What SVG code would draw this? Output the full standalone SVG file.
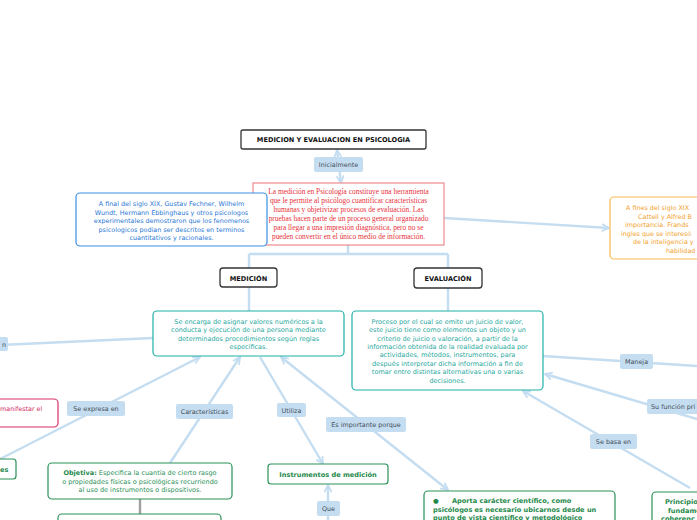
<svg xmlns="http://www.w3.org/2000/svg" width="697" height="520" viewBox="0 0 697 520">
<style>
.c{fill:none;stroke:#c4ddf1;stroke-width:2.4}
.g{fill:none;stroke:#a0a0a0;stroke-width:2.4}
.lb{fill:#c5ddf1;stroke:none}
.lt{font-family:"DejaVu Sans",Verdana,sans-serif;font-size:6.4px;fill:#444e58;text-anchor:middle}
.hb{fill:#fff;stroke:#333;stroke-width:1.3}
.ht{font-family:"DejaVu Sans",Verdana,sans-serif;font-size:6.6px;font-weight:bold;fill:#111;text-anchor:middle}
.tb{fill:#fff;stroke:#1fb0a8;stroke-width:1.2}
.tt{font-family:"DejaVu Sans",Verdana,sans-serif;font-size:6.5px;fill:#1fa9a0;text-anchor:middle}
.gb{fill:#fff;stroke:#2a9158;stroke-width:1.2}
.gt{font-family:"DejaVu Sans",Verdana,sans-serif;font-size:6.5px;fill:#2a9158;text-anchor:middle}
.gbt{font-family:"DejaVu Sans",Verdana,sans-serif;font-size:6.6px;font-weight:bold;fill:#1f8a4c}
</style>
<defs>
<marker id="ar" viewBox="0 0 10 10" refX="9" refY="5" markerWidth="9" markerHeight="9" markerUnits="userSpaceOnUse" orient="auto-start-reverse">
<path d="M1,1 L9,5 L1,9" fill="none" stroke="#c4ddf1" stroke-width="2"/>
</marker>
</defs>
<rect width="697" height="520" fill="#fff"/>

<g id="connectors">
<path class="c" d="M341,183 L337,150" marker-start="url(#ar)" marker-end="url(#ar)"/>
<path class="c" d="M444,218 L609,228" marker-end="url(#ar)"/>
<path class="c" d="M348,245 L348,254 M249,254 L448,254 M249,254 L249,268 M448,254 L448,268"/>
<path class="c" d="M249,287 L249,311 M448,288 L448,311"/>
<path class="c" d="M153,338 L0,345"/>
<path class="c" d="M0,459 L200,357" marker-end="url(#ar)"/>
<path class="c" d="M170,463 L240,357" marker-end="url(#ar)"/>
<path class="c" d="M260,357 L323,464" marker-end="url(#ar)"/>
<path class="c" d="M281,357 L448,490" marker-start="url(#ar)" marker-end="url(#ar)"/>
<path class="c" d="M328,520 L328,485" marker-end="url(#ar)"/>
<path class="c" d="M543,356 L697,366"/>
<path class="c" d="M697,419 L545,374" marker-end="url(#ar)"/>
<path class="c" d="M690,488 L523,391" marker-end="url(#ar)"/>
<path class="g" d="M140,499 L140,514"/>
</g>

<g id="lbl-inicialmente"><rect class="lb" x="314" y="157" width="49" height="15" rx="2"/><text class="lt" x="338.5" y="167">Inicialmente</text></g>
<g id="lbl-n"><rect class="lb" x="-20" y="337" width="28" height="14" rx="2"/><text class="lt" x="4" y="347">n</text></g>
<g id="lbl-expresa"><rect class="lb" x="67" y="401" width="58" height="15" rx="2"/><text class="lt" x="96" y="411">Se expresa en</text></g>
<g id="lbl-caract"><rect class="lb" x="176" y="404" width="57" height="15" rx="2"/><text class="lt" x="204.5" y="414">Características</text></g>
<g id="lbl-utiliza"><rect class="lb" x="277" y="403" width="29" height="14" rx="2"/><text class="lt" x="291.5" y="413">Utiliza</text></g>
<g id="lbl-importante"><rect class="lb" x="326" y="417" width="80" height="15" rx="2"/><text class="lt" x="366" y="427">Es importante porque</text></g>
<g id="lbl-que"><rect class="lb" x="317" y="501" width="23" height="15" rx="2"/><text class="lt" x="328.5" y="511">Que</text></g>
<g id="lbl-maneja"><rect class="lb" x="620" y="354" width="33" height="15" rx="2"/><text class="lt" x="636.5" y="364">Maneja</text></g>
<g id="lbl-funcion"><rect class="lb" x="647" y="399" width="60" height="15" rx="2"/><text class="lt" x="651" y="409" style="text-anchor:start">Su función pri</text></g>
<g id="lbl-basa"><rect class="lb" x="590" y="434" width="47" height="15" rx="2"/><text class="lt" x="613.5" y="444">Se basa en</text></g>

<g id="title"><rect class="hb" x="241" y="130" width="185" height="19" rx="2"/><text class="ht" x="333.5" y="142">MEDICION Y EVALUACION EN PSICOLOGIA</text></g>

<g id="red">
<rect x="253" y="183" width="191" height="62" fill="#fff" stroke="#f08a8e" stroke-width="1.2"/>
<g font-family="'Liberation Serif','Times New Roman',serif" font-size="7.4" fill="#e8303a" text-anchor="middle">
<text x="348.5" y="194">La medición en Psicología constituye una herramienta</text>
<text x="348.5" y="203">que le permite al psicólogo cuantificar características</text>
<text x="348.5" y="212">humanas y objetivizar procesos de evaluación. Las</text>
<text x="348.5" y="221">pruebas hacen parte de un proceso general organizado</text>
<text x="348.5" y="230">para llegar a una impresión diagnóstica, pero no se</text>
<text x="348.5" y="239">pueden convertir en el único medio de información.</text>
</g>
</g>

<g id="blue">
<rect x="76" y="193" width="191" height="53" rx="4" fill="#fff" stroke="#3a8fe3" stroke-width="1.2"/>
<g font-family="'DejaVu Sans',Verdana,sans-serif" font-size="6.4" fill="#2a78d6" text-anchor="middle">
<text x="171.5" y="206">A final del siglo XIX, Gustav Fechner, Wilhelm</text>
<text x="171.5" y="214.5">Wundt, Hermann Ebbinghaus y otros psicologos</text>
<text x="171.5" y="223">experimentales demostraron que los fenomenos</text>
<text x="171.5" y="231.5">psicologicos podian ser descritos en terminos</text>
<text x="171.5" y="240">cuantitativos y racionales.</text>
</g>
</g>

<g id="orange">
<rect x="610" y="197" width="110" height="62" rx="4" fill="#fff" stroke="#f6b957" stroke-width="1.2"/>
<g font-family="'DejaVu Sans',Verdana,sans-serif" font-size="6.4" fill="#f2a22e">
<text x="626" y="210">A fines del siglo XIX</text>
<text x="638" y="218.5">Cattell y Alfred B</text>
<text x="625" y="227">importancia.  Frands</text>
<text x="621" y="235.5">ingles que se interesó</text>
<text x="633" y="244">de la inteligencia y</text>
<text x="666" y="252.5">habilidad</text>
</g>
</g>

<g id="medicion"><rect class="hb" x="220" y="268" width="57" height="19" rx="3"/><text class="ht" x="248.5" y="280.5">MEDICIÓN</text></g>
<g id="evaluacion"><rect class="hb" x="414" y="268" width="68" height="20" rx="3"/><text class="ht" x="448" y="281">EVALUACIÓN</text></g>

<g id="med-def">
<rect class="tb" x="153" y="311" width="191" height="45" rx="4"/>
<text class="tt" x="248.5" y="323.5">Se encarga de asignar valores numéricos a la</text>
<text class="tt" x="248.5" y="332">conducta y ejecución de una persona mediante</text>
<text class="tt" x="248.5" y="340.5">determinados procedimientos según reglas</text>
<text class="tt" x="248.5" y="349">específicas.</text>
</g>

<g id="eval-def">
<rect class="tb" x="352" y="311" width="191" height="79" rx="4"/>
<text class="tt" x="447.5" y="323.5">Proceso por el cual se emite un juicio de valor,</text>
<text class="tt" x="447.5" y="332">este juicio tiene como elementos un objeto y un</text>
<text class="tt" x="447.5" y="340.5">criterio de juicio o valoración, a partir de la</text>
<text class="tt" x="447.5" y="349">información obtenida de la realidad evaluada por</text>
<text class="tt" x="447.5" y="357">actividades, métodos, instrumentos, para</text>
<text class="tt" x="447.5" y="365.5">después interpretar dicha información a fin de</text>
<text class="tt" x="447.5" y="374">tomar entre distintas alternativas una o varias</text>
<text class="tt" x="447.5" y="382.5">decisiones.</text>
</g>

<g id="pink">
<rect x="-20" y="399" width="78" height="28" rx="4" fill="#fff" stroke="#d8306a" stroke-width="1.2"/>
<text x="0" y="411" font-family="'DejaVu Sans',Verdana,sans-serif" font-size="6.4" fill="#d42a64">manifestar el</text>
</g>

<g id="green-left">
<rect class="gb" x="-20" y="459" width="36" height="20" rx="3"/>
<text class="gbt" x="0" y="472">es</text>
</g>

<g id="objetiva">
<rect class="gb" x="48" y="463" width="184" height="36" rx="4"/>
<text class="gt" x="140" y="475"><tspan font-weight="bold" fill="#1f8a4c">Objetiva:</tspan> Especifica la cuantía de cierto rasgo</text>
<text class="gt" x="140" y="483.5">o propiedades físicas o psicológicas recurriendo</text>
<text class="gt" x="140" y="492">al uso de instrumentos o dispositivos.</text>
</g>

<g id="green-bottom">
<rect class="gb" x="58" y="514" width="163" height="20" rx="4"/>
</g>

<g id="instrumentos">
<rect class="gb" x="268" y="464" width="120" height="20" rx="3"/>
<text class="gbt" x="328" y="477" text-anchor="middle">Instrumentos de medición</text>
</g>

<g id="aporta">
<rect class="gb" x="424" y="491" width="191" height="40" rx="4"/>
<text class="gbt" x="433" y="503">●<tspan x="452">Aporta carácter científico, como</tspan></text>
<text class="gbt" x="433" y="511.5">psicólogos es necesario ubicarnos desde un</text>
<text class="gbt" x="433" y="520">punto de vista científico y metodológico</text>
</g>

<g id="principio">
<rect class="gb" x="652" y="492" width="60" height="40" rx="4"/>
<text class="gbt" x="665" y="504">Principio</text>
<text class="gbt" x="668" y="512.5">fundame</text>
<text class="gbt" x="661" y="521">coherenc</text>
</g>
</svg>
